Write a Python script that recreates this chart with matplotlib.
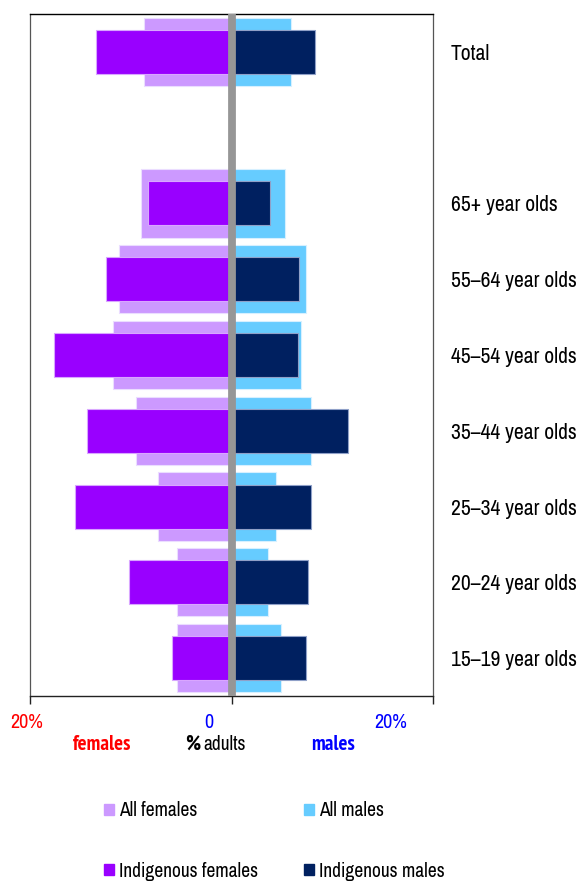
import matplotlib
matplotlib.use("Agg")
import matplotlib.pyplot as plt
from matplotlib.transforms import ScaledTranslation
from matplotlib.patches import Patch

plt.rcParams['font.family'] = ['Archivo Narrow', 'Liberation Sans', 'DejaVu Sans']
BOLD_FAMILY = ['PT Sans Narrow', 'Roboto Condensed', 'Liberation Sans']

categories = ["15–19 year olds", "20–24 year olds", "25–34 year olds", "35–44 year olds",
              "45–54 year olds", "55–64 year olds", "65+ year olds", "", "Total"]
all_females = [5.4, 5.4, 7.3, 9.5, 11.8, 11.2, 9.0, 0, 8.7]
indig_females = [5.9, 10.2, 15.5, 14.3, 17.6, 12.5, 8.3, 0, 13.4]
all_males = [4.95, 3.6, 4.4, 7.9, 6.9, 7.4, 5.3, 0, 5.9]
indig_males = [7.4, 7.6, 7.9, 11.6, 6.6, 6.7, 3.8, 0, 8.3]
x_ticks = [-20, 0, 20]
x_tick_labels = ["20%", "0", "20%"]
x_tick_colors = ["#FF0000", "#0000FF", "#0000FF"]

c_all_f = "#CC99FF"
c_ind_f = "#9900FF"
c_all_m = "#66CCFF"
c_ind_m = "#002060"

W, H = 579, 881
fig = plt.figure(figsize=(W / 100, H / 100), dpi=100)
ax = fig.add_axes([30 / W, 1 - 696 / H, 403 / W, 682 / H])

ypos = list(range(len(categories)))
keep = [i for i, c in enumerate(categories) if c]
yk = [ypos[i] for i in keep]

ax.barh(yk, [-all_females[i] for i in keep], height=0.9, color=c_all_f, edgecolor="#EBDDFF", linewidth=0.8, zorder=2)
ax.barh(yk, [all_males[i] for i in keep], height=0.9, color=c_all_m, edgecolor="#D6F0FF", linewidth=0.8, zorder=2)
ax.barh(yk, [-indig_females[i] for i in keep], height=0.58, color=c_ind_f, edgecolor="#D9A6FF", linewidth=0.8, zorder=3)
ax.barh(yk, [indig_males[i] for i in keep], height=0.58, color=c_ind_m, edgecolor="#8FA0C8", linewidth=0.8, zorder=3)
ax.axvline(0, color="#969696", linewidth=5.6, zorder=4)

ax.set_xlim(-20, 20)
ax.set_ylim(-0.5, len(categories) - 0.5)

ax.spines['top'].set_color('black')
ax.spines['top'].set_linewidth(1.0)
ax.spines['bottom'].set_color('#222222')
ax.spines['bottom'].set_linewidth(1.0)
for s in ('left', 'right'):
    ax.spines[s].set_color('#555555')
    ax.spines[s].set_linewidth(0.9)
    ax.spines[s].set_linestyle((0, (1.5, 1)))

ax.set_xticks(x_ticks)
ax.set_xticklabels(x_tick_labels, fontsize=14.5)
ax.tick_params(axis='x', direction='out', length=6, width=1, color='#222222', pad=6)
offsets = [-3, -23, -42]
for lab, col, dx in zip(ax.get_xticklabels(), x_tick_colors, offsets):
    lab.set_color(col)
    lab.set_transform(lab.get_transform() + ScaledTranslation(dx / 100, 0, fig.dpi_scale_trans))

ax.set_yticks(yk)
ax.set_yticklabels([categories[i] for i in keep], fontsize=15.5)
ax.yaxis.tick_right()
ax.tick_params(axis='y', length=0, pad=13)

def fy(py):
    return 1 - py / H

fig.text(102.5 / W, fy(744), "females", color="#FF0000", fontsize=15, fontweight='bold',
         family=BOLD_FAMILY, ha='center', va='center')
fig.text(185 / W, fy(744), "%", color="black", fontsize=15, fontweight='bold',
         family=BOLD_FAMILY, ha='left', va='center')
fig.text(203 / W, fy(744), "adults", color="black", fontsize=14, ha='left', va='center')
fig.text(333.5 / W, fy(744), "males", color="#0000FF", fontsize=15, fontweight='bold',
         family=BOLD_FAMILY, ha='center', va='center')

handles = [Patch(color=c_all_f), Patch(color=c_ind_f), Patch(color=c_all_m), Patch(color=c_ind_m)]
labels = ["All females", "Indigenous females", "All males", "Indigenous males"]
leg = fig.legend(handles, labels, ncol=2, loc='upper left', bbox_to_anchor=(104 / W, fy(801)),
                 frameon=False, fontsize=14, handlelength=0.5, handleheight=0.5,
                 handletextpad=0.25, columnspacing=2.4, labelspacing=2.15, borderpad=0, borderaxespad=0)

fig.savefig("out.png", dpi=100)
